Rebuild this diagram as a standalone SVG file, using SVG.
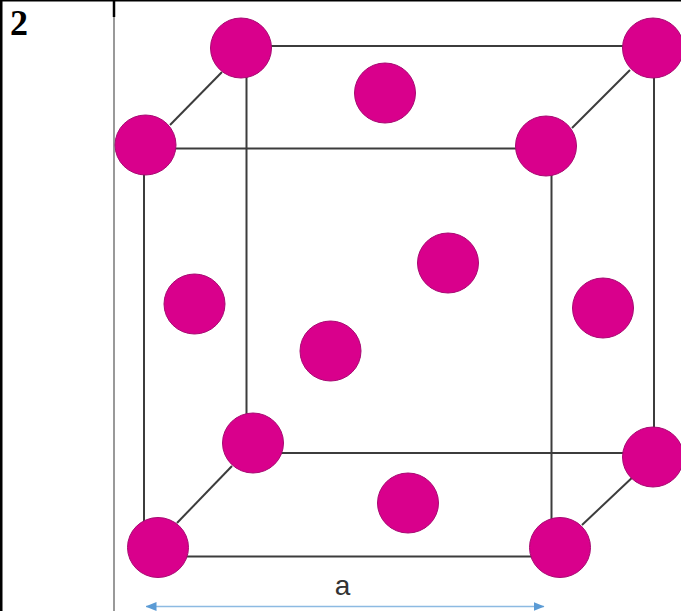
<svg xmlns="http://www.w3.org/2000/svg" width="681" height="611" viewBox="0 0 681 611">
<style>
.a{fill:#d9008c;stroke:#a80a72;stroke-width:1}
.e{fill:none;stroke:#3c3c3c;stroke-width:2}
.b{fill:none;stroke:#000;stroke-width:2}
.t{font-family:"Liberation Serif",serif;font-weight:bold;font-size:36px;fill:#000}
.l{font-family:"Liberation Sans",Arial,sans-serif;font-size:28px;fill:#333}
</style>
<defs>
<marker id="ah" viewBox="0 0 11 9" refX="10.500" refY="4.500" markerWidth="11" markerHeight="9" markerUnits="userSpaceOnUse" orient="auto-start-reverse"><path d="M0 0L11 4.500L0 9Z" fill="#5b9bd5"/></marker>
</defs>
<rect width="681" height="611" fill="#fff"/>
<g id="table">
<path d="M0 .5H681" class="b"/>
<path d="M1 0V611" fill="none" stroke="#000" stroke-width="3"/>
<path d="M114 0V17" fill="none" stroke="#000" stroke-width="2.500"/>
<path d="M114 17V611" fill="none" stroke="#777" stroke-width="1.500"/>
<text class="t" x="10" y="35">2</text>
</g>
<g id="connectors">
<path class="e" d="M241 46H653"/>
<path class="e" d="M145 148.500H546"/>
<path class="e" d="M253 453H653"/>
<path class="e" d="M158 556.500H560"/>
<path class="e" d="M144 149V548"/>
<path class="e" d="M246.500 47V445"/>
<path class="e" d="M551.500 149V548"/>
<path class="e" d="M654 47V457"/>
<path class="e" d="M170 125L222 72"/>
<path class="e" d="M572 128L630 70"/>
<path class="e" d="M177 523L232 466"/>
<path class="e" d="M582 525L636 474"/>
<path d="M146 606.500H544" fill="none" stroke="#8dbae2" stroke-width="1.500" marker-start="url(#ah)" marker-end="url(#ah)"/>
</g>
<g id="n1"><ellipse class="a" cx="241" cy="48" rx="30.500" ry="30"/></g>
<g id="n2"><ellipse class="a" cx="653" cy="48" rx="30.500" ry="30"/></g>
<g id="n3"><ellipse class="a" cx="385" cy="93" rx="30.500" ry="30"/></g>
<g id="n4"><ellipse class="a" cx="145.500" cy="145" rx="30.500" ry="30"/></g>
<g id="n5"><ellipse class="a" cx="546" cy="146" rx="30.500" ry="30"/></g>
<g id="n6"><ellipse class="a" cx="448" cy="263" rx="30.500" ry="30"/></g>
<g id="n7"><ellipse class="a" cx="194.500" cy="304" rx="30.500" ry="30"/></g>
<g id="n8"><ellipse class="a" cx="603" cy="308" rx="30.500" ry="30"/></g>
<g id="n9"><ellipse class="a" cx="330.500" cy="351" rx="30.500" ry="30"/></g>
<g id="n10"><ellipse class="a" cx="253" cy="443" rx="30.500" ry="30"/></g>
<g id="n11"><ellipse class="a" cx="653" cy="457" rx="30.500" ry="30"/></g>
<g id="n12"><ellipse class="a" cx="408" cy="503" rx="30.500" ry="30"/></g>
<g id="n13"><ellipse class="a" cx="158" cy="547.500" rx="30.500" ry="30"/></g>
<g id="n14"><ellipse class="a" cx="560" cy="547.500" rx="30.500" ry="30"/></g>
<g id="label"><text class="l" x="342.500" y="595" text-anchor="middle">a</text></g>
</svg>
